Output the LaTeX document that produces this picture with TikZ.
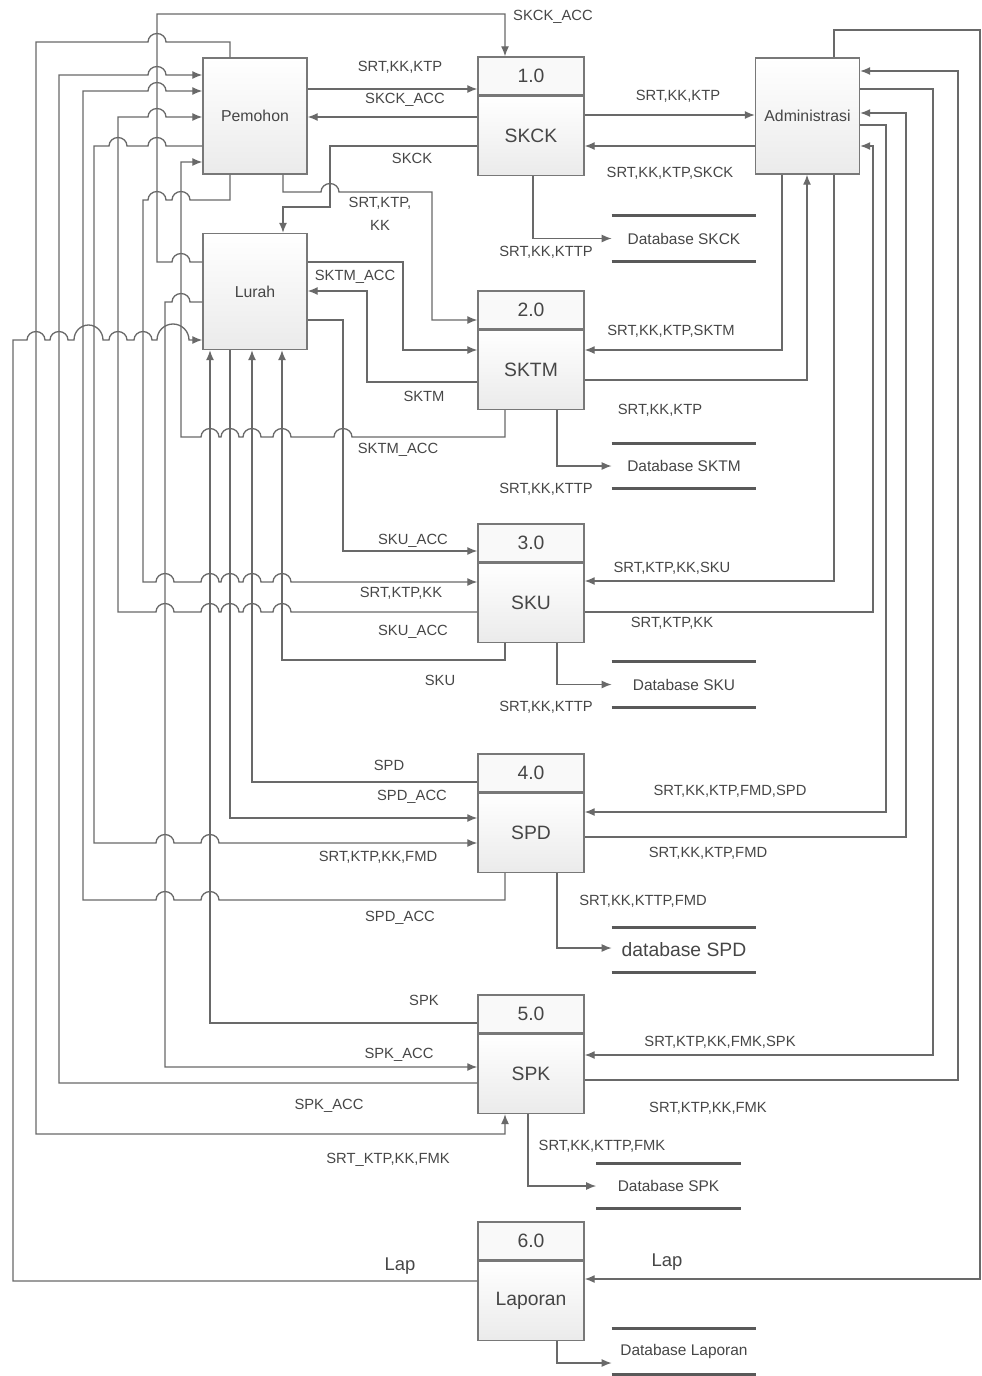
\documentclass[tikz,border=0pt]{standalone}
\usepackage{fontspec}
\setmainfont{Liberation Sans}
\usetikzlibrary{arrows.meta, positioning}
\definecolor{dfd-line}{RGB}{105,105,105}
\definecolor{dfd-text}{RGB}{70,70,70}
\definecolor{dfd-border}{RGB}{120,120,120}

%% line jumps: hop over a vertical line at x=#1 on a horizontal run at y=#2
\newcommand{\hopR}[2]{-- (#1-9,#2) arc[start angle=180, end angle=0, x radius=0.18cm, y radius=0.17cm]}
\newcommand{\hopL}[2]{-- (#1+9,#2) arc[start angle=0, end angle=180, x radius=0.18cm, y radius=0.17cm]}

\begin{document}
\begin{tikzpicture}[
    x=0.02cm, y=-0.02cm,
    font=\fontsize{8.4}{10}\selectfont, text=dfd-text,
    %% external entity
    ent/.style  = {rectangle, draw=dfd-border, line width=0.8pt,
                   top color=white, bottom color=gray!16,
                   minimum width=2.08cm, minimum height=2.32cm,
                   font=\fontsize{9}{11}\selectfont},
    %% process number strip
    pnum/.style = {rectangle, draw=dfd-border, line width=0.8pt, fill=gray!5,
                   minimum width=2.12cm, minimum height=0.76cm, inner sep=0pt,
                   font=\fontsize{11}{13}\selectfont},
    %% process body
    pbox/.style = {rectangle, draw=dfd-border, line width=0.8pt,
                   top color=white, bottom color=gray!16,
                   minimum width=2.12cm, minimum height=1.58cm, inner sep=0pt,
                   font=\fontsize{11}{13}\selectfont},
    %% data store
    store/.style = {minimum width=2.88cm, minimum height=0.9cm, inner sep=0pt,
                    font=\fontsize{8.8}{10}\selectfont},
    lbl/.style  = {inner sep=1pt, align=center},
    flow/.style = {draw=dfd-line, line width=0.75pt, -{Latex[length=2mm,width=1.6mm]}},
    dbline/.style = {draw=dfd-line!85!black, line width=1.6pt},
]
\useasboundingbox (0,0) rectangle (982,1376);

%% ---- entities ----
\node[ent] (pemohon) at (255,116)   {Pemohon};
\node[ent] (lurah)   at (255,291.5) {Lurah};
\node[ent] (admin)   at (807.5,116) {Administrasi};

%% ---- processes ----
\node[pnum] (skcknum) at (531,76) {1.0};
\node[pbox, below=0pt of skcknum] (skck) {SKCK};
\node[pnum] (sktmnum) at (531,310) {2.0};
\node[pbox, below=0pt of sktmnum] (sktm) {SKTM};
\node[pnum] (skunum) at (531,543) {3.0};
\node[pbox, below=0pt of skunum] (sku) {SKU};
\node[pnum] (spdnum) at (531,773) {4.0};
\node[pbox, below=0pt of spdnum] (spd) {SPD};
\node[pnum] (spknum) at (531,1014) {5.0};
\node[pbox, below=0pt of spknum] (spk) {SPK};
\node[pnum] (lapnum) at (531,1241) {6.0};
\node[pbox, below=0pt of lapnum] (laporan) {Laporan};

%% ---- data stores ----
\node[store] (dbskck) at (684,238.5) {Database SKCK};
\node[store] (dbsktm) at (684,466)   {Database SKTM};
\node[store] (dbsku)  at (684,684.5) {Database SKU};
\node[store, font=\fontsize{11}{13}\selectfont] (dbspd) at (684,950) {database SPD};
\node[store] (dbspk)  at (668.5,1186) {Database SPK};
\node[store] (dblap)  at (684,1351.5) {Database Laporan};
\foreach \db in {dbskck, dbsktm, dbsku, dbspd, dbspk, dblap} {
  \draw[dbline] (\db.north west) -- (\db.north east);
  \draw[dbline] (\db.south west) -- (\db.south east);
}

%% ---- Pemohon / Lurah <-> SKCK ----
\draw[flow] (pemohon.east |- 0,89) -- (skcknum.west |- 0,89);
\draw[flow] (skck.west |- 0,117) -- (pemohon.east |- 0,117);
\draw[flow] (skck.west |- 0,146) -- (330,146) -- (330,207) -- (283,207) -- (lurah.north -| 283,0);
\draw[flow] (lurah.west |- 0,262) \hopL{181}{262} -- (157,262) -- (157,14) -- (505,14) -- (skcknum.north -| 505,0);

%% ---- SKTM ----
\draw[flow] (pemohon.south -| 283,0) -- (283,192) \hopR{330}{192} -- (432,192) -- (432,320) -- (sktmnum.west |- 0,320);
\draw[flow] (lurah.east |- 0,262) -- (403,262) -- (403,350) -- (sktm.west |- 0,350);
\draw[flow] (sktm.west |- 0,382) -- (367,382) -- (367,291) -- (lurah.east |- 0,291);
\draw[flow] (sktm.south -| 505,0) -- (505,437) \hopL{343}{437} \hopL{282}{437} \hopL{252}{437} \hopL{230}{437} \hopL{210}{437} -- (181,437) -- (181,162) -- (pemohon.west |- 0,162);

%% ---- SKU ----
\draw[flow] (lurah.east |- 0,320) -- (343,320) -- (343,551) -- (skunum.west |- 0,551);
\draw[flow] (pemohon.south -| 230,0) -- (230,200) \hopL{181}{200} \hopL{157}{200} -- (143,200) -- (143,582) \hopR{165}{582} \hopR{210}{582} \hopR{230}{582} \hopR{252}{582} \hopR{282}{582} -- (sku.west |- 0,582);
\draw[flow] (sku.west |- 0,612) \hopL{282}{612} \hopL{252}{612} \hopL{230}{612} \hopL{210}{612} \hopL{165}{612} -- (118,612) -- (118,117) \hopR{157}{117} -- (pemohon.west |- 0,117);
\draw[flow] (sku.south -| 505,0) -- (505,660) -- (282,660) -- (lurah.south -| 282,0);

%% ---- SPD ----
\draw[flow] (spdnum.west |- 0,782) -- (252,782) -- (lurah.south -| 252,0);
\draw[flow] (lurah.south -| 230,0) -- (230,818) -- (spd.west |- 0,818);
\draw[flow] (pemohon.west |- 0,146) \hopL{157}{146} \hopL{118}{146} -- (94,146) -- (94,843) \hopR{165}{843} \hopR{210}{843} -- (spd.west |- 0,843);
\draw[flow] (spd.south -| 505,0) -- (505,900) \hopL{210}{900} \hopL{165}{900} -- (83,900) -- (83,91) \hopR{157}{91} -- (pemohon.west |- 0,91);

%% ---- SPK ----
\draw[flow] (spknum.west |- 0,1023) -- (210,1023) -- (lurah.south -| 210,0);
\draw[flow] (lurah.west |- 0,302) \hopL{181}{302} -- (165,302) -- (165,1067) -- (spk.west |- 0,1067);
\draw[flow] (spk.west |- 0,1083) -- (59,1083) -- (59,75) \hopR{157}{75} -- (pemohon.west |- 0,75);
\draw[flow] (pemohon.north -| 230,0) -- (230,42) \hopL{157}{42} -- (36,42) -- (36,1134) -- (505,1134) -- (spk.south -| 505,0);

%% ---- Laporan -> Lurah ----
\draw[flow] (laporan.west |- 0,1281) -- (13,1281) -- (13,340) \hopR{36}{340} \hopR{59}{340}
    -- (74,340) arc[start angle=180, end angle=0, x radius=0.29cm, y radius=0.3cm]
    \hopR{118}{340} \hopR{143}{340}
    -- (157,340) arc[start angle=180, end angle=0, x radius=0.32cm, y radius=0.32cm]
    -- (lurah.west |- 0,340);

%% ---- Administrasi side ----
\draw[flow] (skck.east |- 0,115) -- (admin.west |- 0,115);
\draw[flow] (admin.west |- 0,146) -- (skck.east |- 0,146);
\draw[flow] (admin.south -| 782,0) -- (782,350) -- (sktm.east |- 0,350);
\draw[flow] (sktm.east |- 0,380) -- (807,380) -- (admin.south -| 807,0);
\draw[flow] (admin.south -| 834,0) -- (834,581) -- (sku.east |- 0,581);
\draw[flow] (sku.east |- 0,612) -- (873,612) -- (873,146) -- (admin.east |- 0,146);
\draw[flow] (admin.east |- 0,125) -- (886,125) -- (886,812) -- (spd.east |- 0,812);
\draw[flow] (spd.east |- 0,837) -- (906,837) -- (906,113) -- (admin.east |- 0,113);
\draw[flow] (admin.east |- 0,89) -- (933,89) -- (933,1055) -- (spk.east |- 0,1055);
\draw[flow] (spk.east |- 0,1080) -- (958,1080) -- (958,71) -- (admin.east |- 0,71);
\draw[flow] (admin.north -| 834,0) -- (834,30) -- (980,30) -- (980,1279) -- (laporan.east |- 0,1279);

%% ---- processes -> data stores ----
\draw[flow] (skck.south -| 533,0) -- (533,238.5) -- (dbskck.west);
\draw[flow] (sktm.south -| 557,0) -- (557,466) -- (dbsktm.west);
\draw[flow] (sku.south -| 557,0) -- (557,684.5) -- (dbsku.west);
\draw[flow] (spd.south -| 557,0) -- (557,948) -- (dbspd.west |- 0,948);
\draw[flow] (spk.south -| 528,0) -- (528,1186) -- (dbspk.west);
\draw[flow] (laporan.south -| 557,0) -- (557,1363) -- (dblap.west |- 0,1363);

%% ---- flow labels, left ----
\node[lbl] (t-skckacc1) at (553,17)   {SKCK\_ACC};
\node[lbl] (t-pskck)    at (400,67)   {SRT,KK,KTP};
\node[lbl] (t-skckacc2) at (405,100)  {SKCK\_ACC};
\node[lbl] (t-skck)     at (412,158)  {SKCK};
\node[lbl, font=\fontsize{8.4}{13}\selectfont] (t-psktm) at (380,214) {SRT,KTP,\\KK};
\node[lbl] (t-sktmacc1) at (355,277)  {SKTM\_ACC};
\node[lbl] (t-sktm)     at (424,396)  {SKTM};
\node[lbl] (t-sktmacc2) at (398,450)  {SKTM\_ACC};
\node[lbl] (t-skuacc1)  at (413,541)  {SKU\_ACC};
\node[lbl] (t-psku)     at (401,593)  {SRT,KTP,KK};
\node[lbl] (t-skuacc2)  at (413,632)  {SKU\_ACC};
\node[lbl] (t-sku)      at (440,680)  {SKU};
\node[lbl] (t-spd)      at (389,765)  {SPD};
\node[lbl] (t-spdacc1)  at (412,797)  {SPD\_ACC};
\node[lbl] (t-pspd)     at (378,857)  {SRT,KTP,KK,FMD};
\node[lbl] (t-spdacc2)  at (400,918)  {SPD\_ACC};
\node[lbl] (t-spk)      at (424,1000) {SPK};
\node[lbl] (t-spkacc1)  at (399,1055) {SPK\_ACC};
\node[lbl] (t-spkacc2)  at (329,1106) {SPK\_ACC};
\node[lbl] (t-pspk)     at (388,1160) {SRT\_KTP,KK,FMK};
\node[lbl, font=\fontsize{10.5}{12}\selectfont] (t-lap1) at (400,1266) {Lap};

%% ---- flow labels, right ----
\node[lbl] (t-askck1)   at (678,96)   {SRT,KK,KTP};
\node[lbl] (t-askck2)   at (670,173)  {SRT,KK,KTP,SKCK};
\node[lbl] (t-dskck)    at (546,252)  {SRT,KK,KTTP};
\node[lbl] (t-asktm1)   at (671,331)  {SRT,KK,KTP,SKTM};
\node[lbl] (t-asktm2)   at (660,410)  {SRT,KK,KTP};
\node[lbl] (t-dsktm)    at (546,489)  {SRT,KK,KTTP};
\node[lbl] (t-asku1)    at (672,568)  {SRT,KTP,KK,SKU};
\node[lbl] (t-asku2)    at (672,623)  {SRT,KTP,KK};
\node[lbl] (t-dsku)     at (546,707)  {SRT,KK,KTTP};
\node[lbl] (t-aspd1)    at (730,791)  {SRT,KK,KTP,FMD,SPD};
\node[lbl] (t-aspd2)    at (708,853)  {SRT,KK,KTP,FMD};
\node[lbl] (t-dspd)     at (643,901)  {SRT,KK,KTTP,FMD};
\node[lbl] (t-aspk1)    at (720,1042) {SRT,KTP,KK,FMK,SPK};
\node[lbl] (t-aspk2)    at (708,1108) {SRT,KTP,KK,FMK};
\node[lbl] (t-dspk)     at (602,1146) {SRT,KK,KTTP,FMK};
\node[lbl, font=\fontsize{10.5}{12}\selectfont] (t-lap2) at (667,1262) {Lap};

\end{tikzpicture}
\end{document}
